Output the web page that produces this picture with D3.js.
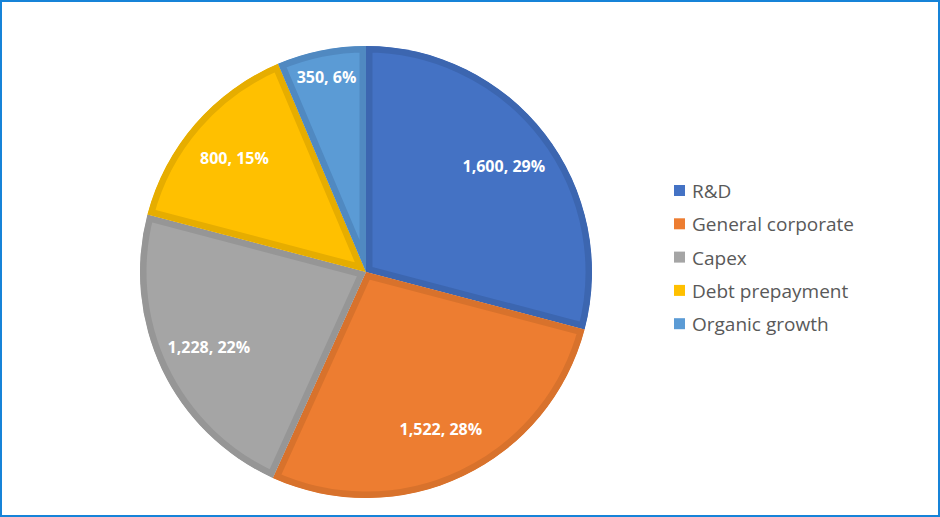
<!DOCTYPE html>
<html>
<head>
<meta charset="utf-8">
<script src="https://cdn.jsdelivr.net/npm/d3@7"></script>
<style>
  html, body { margin: 0; padding: 0; background: #fff; }
  svg { display: block; }
</style>
</head>
<body>
<svg id="chart" width="940" height="517"></svg>
<script>
const categories = ["R&D", "General corporate", "Capex", "Debt prepayment", "Organic growth"];
const values = [1600, 1522, 1228, 800, 350];
const fillColors = ["#4472C4", "#ED7D31", "#A5A5A5", "#FFC000", "#5B9BD5"];
const edgeColors = ["#3C66B0", "#D8722C", "#969696", "#E6AD00", "#5089C1"];

const W = 940, H = 517;
const cx = 366, cy = 272, R = 226;
const svg = d3.select("#chart");

svg.append("rect")
  .attr("x", 1).attr("y", 1).attr("width", W - 2).attr("height", H - 2)
  .attr("fill", "#fff").attr("stroke", "#1683D8").attr("stroke-width", 2);

const total = d3.sum(values);
const pie = d3.pie().sort(null).value(d => d);
const arcs = pie(values);
const arc = d3.arc().innerRadius(0).outerRadius(R);

const g = svg.append("g").attr("transform", `translate(${cx},${cy})`);
const defs = svg.append("defs");

arcs.forEach((a, i) => {
  defs.append("clipPath").attr("id", "clip" + i)
    .append("path").attr("d", arc(a));
});

g.selectAll("path.slice")
  .data(arcs)
  .join("path")
  .attr("class", "slice")
  .attr("d", arc)
  .attr("fill", (d, i) => fillColors[i])
  .attr("stroke", (d, i) => edgeColors[i])
  .attr("stroke-width", 13)
  .attr("stroke-linejoin", "miter")
  .attr("clip-path", (d, i) => `url(#clip${i})`);

const fmt = d3.format(",");
const labelArc = d3.arc().innerRadius(R * 0.77).outerRadius(R * 0.77);
const smallArc = d3.arc().innerRadius(R * 0.88).outerRadius(R * 0.88);

g.selectAll("text.lbl")
  .data(arcs)
  .join("text")
  .attr("class", "lbl")
  .attr("transform", (d, i) => {
    const frac = d.value / total;
    const c = (frac < 0.1 ? smallArc : labelArc).centroid(d);
    return `translate(${c[0]},${c[1]})`;
  })
  .attr("text-anchor", "middle")
  .attr("dominant-baseline", "central")
  .attr("fill", "#fff")
  .attr("font-family", "'Open Sans', 'Noto Sans', sans-serif")
  .attr("font-weight", "bold")
  .attr("font-size", 16)
  .text(d => `${fmt(d.value)}, ${Math.round(d.value / total * 100)}%`);

const legend = svg.append("g").attr("transform", "translate(674,191)");
const row = legend.selectAll("g").data(categories).join("g")
  .attr("transform", (d, i) => `translate(0,${i * 33.3})`);
row.append("rect")
  .attr("x", 0).attr("y", -6).attr("width", 11).attr("height", 11)
  .attr("fill", (d, i) => fillColors[i]);
row.append("text")
  .attr("x", 18).attr("y", 0)
  .attr("dominant-baseline", "central")
  .attr("fill", "#595959")
  .attr("font-family", "'Open Sans', 'Noto Sans', sans-serif")
  .attr("font-size", 19)
  .text(d => d);
</script>
</body>
</html>
